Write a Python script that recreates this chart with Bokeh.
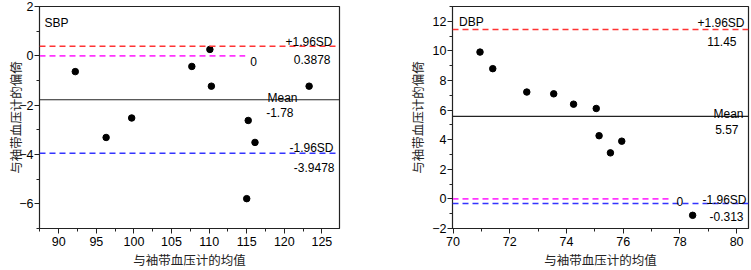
import math
from bokeh.plotting import figure
from bokeh.layouts import row
from bokeh.models import Span, Label, FixedTicker, Range1d
from bokeh.embed import file_html
from bokeh.resources import INLINE

# ---------------- data ----------------
sbp_mean = [92.2, 107.7, 110.1, 110.3, 123.3, 99.7, 115.2, 96.3, 116.1, 115.0]
sbp_diff = [-0.64, -0.43, 0.26, -1.23, -1.23, -2.52, -2.62, -3.31, -3.51, -5.79]
sbp_upper = 0.3878
sbp_bias = -1.78
sbp_lower = -3.9478
sbp_zero_end = 114.8
sbp_xticks = [90, 95, 100, 105, 110, 115, 120, 125]
sbp_yticks = [-6, -4, -2, 0, 2]

dbp_mean = [70.95, 71.4, 72.6, 73.55, 74.25, 75.05, 75.15, 75.55, 75.95, 78.45]
dbp_diff = [9.92, 8.80, 7.22, 7.10, 6.40, 6.11, 4.27, 3.11, 3.90, -1.11]
dbp_upper = 11.45
dbp_bias = 5.57
dbp_lower = -0.313
dbp_zero_end = 77.7
dbp_xticks = [70, 72, 74, 76, 78, 80]
dbp_yticks = [-2, 0, 2, 4, 6, 8, 10, 12]

x_title = "与袖带血压计的均值"
y_title = "与袖带血压计的偏倚"
upper_text = "+1.96SD"
mean_text = "Mean"
lower_text = "-1.96SD"
zero_text = "0"

FONT = "Liberation Sans"
CJK = "Noto Sans CJK SC"
CJK_X = "Liberation Sans, Noto Sans CJK SC"


def minor_from(ticks, step):
    out = []
    t = ticks[0] - step
    while t <= ticks[-1] + step + 1e-9:
        out.append(round(t, 6))
        t += step / 2.0
    return out


def make(name, xs, ys, upper, bias, lower, zero_end, xticks, yticks,
         xr, yr, width, mbl, mbr, offs, ystand):
    p = figure(width=width, height=270, x_range=Range1d(*xr), y_range=Range1d(*yr),
               output_backend="svg", toolbar_location=None,
               min_border_left=mbl, min_border_right=mbr,
               min_border_top=6, min_border_bottom=42)
    p.grid.visible = False
    p.background_fill_color = "white"
    p.border_fill_color = "white"
    p.outline_line_color = "#222222"
    p.outline_line_width = 1.2

    xstep = xticks[1] - xticks[0]
    ystep = yticks[1] - yticks[0]
    p.xaxis.ticker = FixedTicker(ticks=xticks, minor_ticks=minor_from(xticks, xstep))
    p.yaxis.ticker = FixedTicker(ticks=yticks, minor_ticks=minor_from(yticks, ystep))
    for ax in (p.xaxis, p.yaxis):
        ax.axis_line_color = "#222222"
        ax.major_tick_line_color = "#222222"
        ax.minor_tick_line_color = "#222222"
        ax.major_tick_in = 0
        ax.major_tick_out = 5
        ax.minor_tick_in = 0
        ax.minor_tick_out = 3
        ax.major_label_text_font = FONT
        ax.major_label_text_font_size = "12.5px"
        ax.major_label_text_color = "black"
        ax.axis_label_text_font_size = "12.5px"
        ax.axis_label_text_font_style = "normal"
        ax.axis_label_text_color = "#222222"
    p.xaxis.axis_label_text_font = CJK_X
    p.yaxis.axis_label_text_font = CJK
    p.xaxis.major_label_standoff = 3
    p.yaxis.major_label_standoff = 1
    p.xaxis.axis_label_standoff = 5
    p.yaxis.axis_label_standoff = ystand
    p.xaxis.axis_label = x_title
    p.yaxis.axis_label = y_title

    p.add_layout(Span(location=upper, dimension="width", line_color="#ff3333",
                      line_width=1.6, line_dash="6 4"))
    p.add_layout(Span(location=bias, dimension="width", line_color="#222222",
                      line_width=1.2))
    p.add_layout(Span(location=lower, dimension="width", line_color="#3333ff",
                      line_width=1.6, line_dash="6 4"))
    p.line(x=[xr[0], zero_end], y=[0, 0], line_color="#ff33ff", line_width=1.6,
           line_dash="6 4")

    p.scatter(x=xs, y=ys, size=6.5, fill_color="black", line_color="black")

    def lab(text, x, y, xo, yo, align="right"):
        p.add_layout(Label(x=x, y=y, text=text, x_offset=xo, y_offset=yo,
                           text_align=align, text_baseline="alphabetic",
                           text_font=FONT, text_font_size="12px",
                           text_color="black"))

    xe = xr[1]
    lab(upper_text, xe, upper, offs[0], offs[1])
    lab(f"{upper:g}", xe, upper, offs[2], offs[3])
    lab(mean_text, xe, bias, offs[4], offs[5])
    lab(f"{bias:g}", xe, bias, offs[6], offs[7])
    lab(lower_text, xe, lower, offs[8], offs[9])
    lab(f"{lower:g}", xe, lower, offs[10], offs[11])
    lab(zero_text, zero_end, 0, 5, offs[12], align="left")
    lab(name, xr[0], yr[1], offs[13], offs[14], align="left")
    return p


left = make("SBP", sbp_mean, sbp_diff, sbp_upper, sbp_bias, sbp_lower, sbp_zero_end,
            sbp_xticks, sbp_yticks, (87.44, 127.34), (-7, 2), 368, 39, 29,
            [-7, 4.5, -9, -13.5, -42, 1.5, -46, -12.5, -6, 5, -5, -14, -6, 5, -16],
            -9)
right = make("DBP", dbp_mean, dbp_diff, dbp_upper, dbp_bias, dbp_lower, dbp_zero_end,
             dbp_xticks, dbp_yticks, (69.98, 80.42), (-2, 13), 383, 84, 3,
             [-4, 6, -12, -12.5, -5, 2, -10, -13, -2, 4, -5, -13.3, -3, 6.5, -15.4],
             2)

layout = row(left, right)
open("out.html", "w").write(file_html(layout, INLINE))
